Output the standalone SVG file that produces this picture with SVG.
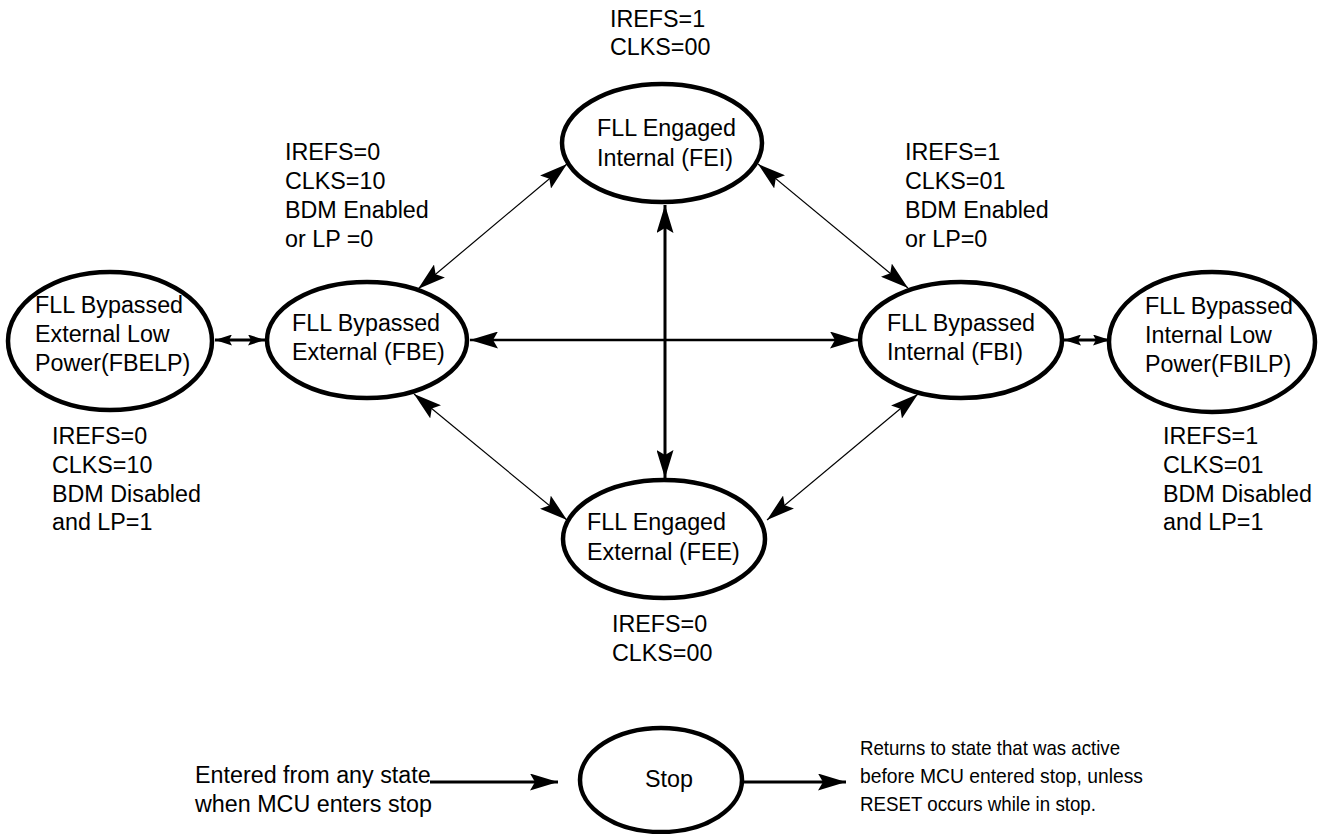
<svg xmlns="http://www.w3.org/2000/svg" width="1325" height="834" viewBox="0 0 1325 834">
<style>
.node{fill:#fff;stroke:#000;stroke-width:4.5}
text{font-family:"Liberation Sans",Arial,sans-serif;font-size:23.3px;fill:#000}
text.note{font-size:21px}
.thin{stroke:#000;stroke-width:1.2;fill:none}
.mid{stroke:#000;stroke-width:2.6;fill:none}
.thick{stroke:#000;stroke-width:3;fill:none}
</style>
<defs>
<marker id="big" viewBox="0 0 28 17" refX="28" refY="8.5" markerWidth="28" markerHeight="17" markerUnits="userSpaceOnUse" orient="auto-start-reverse">
<path d="M0,0 L28,8.5 L0,17 L5,8.5 Z" fill="#000"/>
</marker>
<marker id="small" viewBox="0 0 17 11" refX="17" refY="5.5" markerWidth="17" markerHeight="11" markerUnits="userSpaceOnUse" orient="auto-start-reverse">
<path d="M0,0 L17,5.5 L0,11 L3,5.5 Z" fill="#000"/>
</marker>
</defs>
<rect width="1325" height="834" fill="#fff"/>
<g id="connectors">
<line class="thin" x1="418" y1="289" x2="567" y2="164" marker-start="url(#big)" marker-end="url(#big)"/>
<line class="thin" x1="758" y1="164" x2="908" y2="288" marker-start="url(#big)" marker-end="url(#big)"/>
<line class="thin" x1="414" y1="394" x2="567" y2="520" marker-start="url(#big)" marker-end="url(#big)"/>
<line class="thin" x1="918" y1="394" x2="767" y2="520" marker-start="url(#big)" marker-end="url(#big)"/>
<line class="mid" x1="470" y1="340" x2="858" y2="340" marker-start="url(#big)" marker-end="url(#big)"/>
<line class="thick" x1="665" y1="205" x2="665" y2="478" marker-start="url(#big)" marker-end="url(#big)"/>
<line class="thick" x1="215" y1="340" x2="265" y2="340" marker-start="url(#small)" marker-end="url(#small)"/>
<line class="thick" x1="1064" y1="340" x2="1110" y2="340" marker-start="url(#small)" marker-end="url(#small)"/>
<line class="thick" x1="430" y1="782" x2="558" y2="782" marker-end="url(#big)"/>
<line class="thick" x1="743" y1="782" x2="846" y2="782" marker-end="url(#big)"/>
</g>
<g id="FEI">
<ellipse class="node" cx="662" cy="143" rx="100" ry="59"/>
<text x="597" y="136">FLL Engaged</text>
<text x="597" y="166">Internal (FEI)</text>
</g>
<g id="FBE">
<ellipse class="node" cx="367" cy="340" rx="100" ry="58"/>
<text x="292" y="331">FLL Bypassed</text>
<text x="292" y="360">External (FBE)</text>
</g>
<g id="FBI">
<ellipse class="node" cx="961" cy="340" rx="101" ry="58"/>
<text x="887" y="331">FLL Bypassed</text>
<text x="887" y="360">Internal (FBI)</text>
</g>
<g id="FBELP">
<ellipse class="node" cx="110" cy="341" rx="102" ry="69"/>
<text x="35" y="313">FLL Bypassed</text>
<text x="35" y="342">External Low</text>
<text x="35" y="371">Power(FBELP)</text>
</g>
<g id="FBILP">
<ellipse class="node" cx="1212" cy="342" rx="103" ry="70"/>
<text x="1145" y="314">FLL Bypassed</text>
<text x="1145" y="343">Internal Low</text>
<text x="1145" y="372">Power(FBILP)</text>
</g>
<g id="FEE">
<ellipse class="node" cx="664" cy="539" rx="101" ry="59"/>
<text x="587" y="530">FLL Engaged</text>
<text x="587" y="560">External (FEE)</text>
</g>
<g id="Stop">
<ellipse class="node" cx="661" cy="780" rx="81" ry="52"/>
<text x="645" y="787">Stop</text>
</g>
<g id="labels">
<text x="610" y="27">IREFS=1</text>
<text x="610" y="55">CLKS=00</text>
<text x="285" y="160">IREFS=0</text>
<text x="285" y="189">CLKS=10</text>
<text x="285" y="218">BDM Enabled</text>
<text x="285" y="247">or LP =0</text>
<text x="905" y="160">IREFS=1</text>
<text x="905" y="189">CLKS=01</text>
<text x="905" y="218">BDM Enabled</text>
<text x="905" y="247">or LP=0</text>
<text x="52" y="444">IREFS=0</text>
<text x="52" y="473">CLKS=10</text>
<text x="52" y="502">BDM Disabled</text>
<text x="52" y="530">and LP=1</text>
<text x="1163" y="444">IREFS=1</text>
<text x="1163" y="473">CLKS=01</text>
<text x="1163" y="502">BDM Disabled</text>
<text x="1163" y="530">and LP=1</text>
<text x="612" y="632">IREFS=0</text>
<text x="612" y="661">CLKS=00</text>
<text x="195" y="783">Entered from any state</text>
<text x="195" y="812">when MCU enters stop</text>
<text class="note" x="860" y="755" textLength="260" lengthAdjust="spacingAndGlyphs">Returns to state that was active</text>
<text class="note" x="860" y="783" textLength="283" lengthAdjust="spacingAndGlyphs">before MCU entered stop, unless</text>
<text class="note" x="860" y="811" textLength="236" lengthAdjust="spacingAndGlyphs">RESET occurs while in stop.</text>
</g>
</svg>
